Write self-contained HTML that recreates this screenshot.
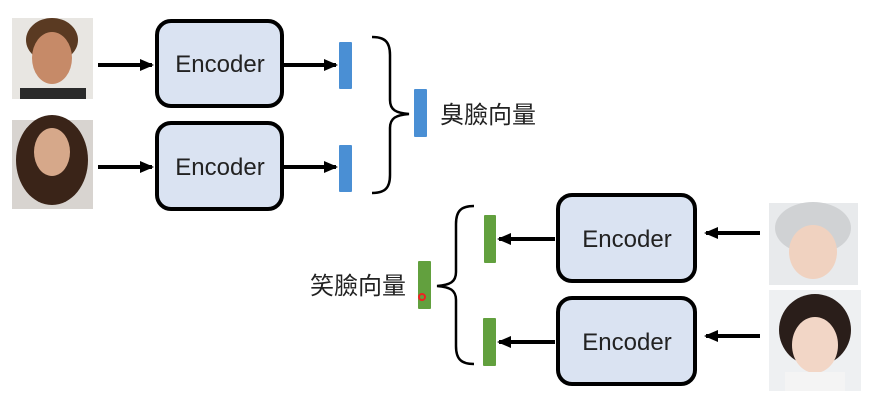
<!DOCTYPE html>
<html><head><meta charset="utf-8"><style>
html,body{margin:0;padding:0;background:#fff;width:877px;height:409px;overflow:hidden}
svg{display:block}
text{font-family:"Liberation Sans","Noto Sans CJK TC",sans-serif}
</style></head><body>
<svg width="877" height="409" viewBox="0 0 877 409" xmlns="http://www.w3.org/2000/svg">
<defs><marker id="ah" markerWidth="14" markerHeight="12" refX="12" refY="6" orient="auto" markerUnits="userSpaceOnUse"><path d="M0,0 L14,6 L0,12 z" fill="#000"/></marker></defs>
<!-- photos -->
<rect x="12" y="18" width="81" height="81" fill="#e8e6e2"/>
<ellipse cx="52" cy="40" rx="26" ry="22" fill="#5a3a22"/>
<ellipse cx="52" cy="58" rx="20" ry="26" fill="#c68a68"/>
<rect x="20" y="88" width="66" height="11" fill="#2a2a2a"/>
<rect x="12" y="120" width="81" height="89" fill="#d8d4d0"/>
<ellipse cx="52" cy="160" rx="36" ry="45" fill="#3a2418"/>
<ellipse cx="52" cy="152" rx="18" ry="24" fill="#d6a88a"/>
<rect x="769" y="203" width="89" height="82" fill="#e8eaec"/>
<ellipse cx="813" cy="228" rx="38" ry="26" fill="#d0d2d4"/>
<ellipse cx="813" cy="252" rx="24" ry="27" fill="#f0d2c0"/>
<rect x="769" y="290" width="92" height="101" fill="#eef0f2"/>
<ellipse cx="815" cy="330" rx="36" ry="36" fill="#2a1e1a"/>
<ellipse cx="815" cy="345" rx="23" ry="28" fill="#f2d6c6"/>
<rect x="785" y="372" width="60" height="19" fill="#f4f4f4"/>
<!-- encoders -->
<g fill="#dae3f2" stroke="#000" stroke-width="4">
<rect x="157" y="21" width="125" height="85" rx="14"/>
<rect x="157" y="123" width="125" height="86" rx="14"/>
<rect x="558" y="195" width="137" height="86" rx="14"/>
<rect x="558" y="298" width="137" height="86" rx="14"/>
</g>
<g font-size="24" fill="#222" text-anchor="middle">
<text x="220" y="72">Encoder</text>
<text x="220" y="175">Encoder</text>
<text x="627" y="247">Encoder</text>
<text x="627" y="350">Encoder</text>
</g>
<!-- arrows -->
<g stroke="#000" stroke-width="4" marker-end="url(#ah)">
<line x1="98" y1="65" x2="152" y2="65"/>
<line x1="98" y1="167" x2="152" y2="167"/>
<line x1="284" y1="65" x2="336" y2="65"/>
<line x1="284" y1="167" x2="336" y2="167"/>
<line x1="760" y1="233" x2="706" y2="233"/>
<line x1="760" y1="336" x2="706" y2="336"/>
<line x1="555" y1="239" x2="499" y2="239"/>
<line x1="555" y1="342" x2="499" y2="342"/>
</g>
<!-- bars -->
<g fill="#4a8fd4">
<rect x="339" y="42" width="13" height="47" rx="1"/>
<rect x="339" y="145" width="13" height="47" rx="1"/>
<rect x="414" y="89" width="13" height="48" rx="1"/>
</g>
<g fill="#62a03e">
<rect x="484" y="215" width="12" height="48" rx="1"/>
<rect x="483" y="318" width="13" height="48" rx="1"/>
<rect x="418" y="261" width="13" height="48" rx="1"/>
</g>
<circle cx="422" cy="297" r="3" fill="none" stroke="#e22" stroke-width="2"/>
<!-- braces -->
<g fill="none" stroke="#000" stroke-width="2.5">
<path d="M372,37 C385,37 390,42 390,55 L390,100 C390,110 396,113 409,114 C396,115 390,118 390,128 L390,175 C390,188 385,193 372,193"/>
<path d="M474,206 C461,206 456,211 456,224 L456,272 C456,282 450,285 437,286 C450,287 456,290 456,300 L456,346 C456,359 461,364 474,364"/>
</g>
<text x="440" y="123" font-size="24" fill="#222">臭臉向量</text>
<text x="310" y="294" font-size="24" fill="#222">笑臉向量</text>
</svg>
</body></html>
